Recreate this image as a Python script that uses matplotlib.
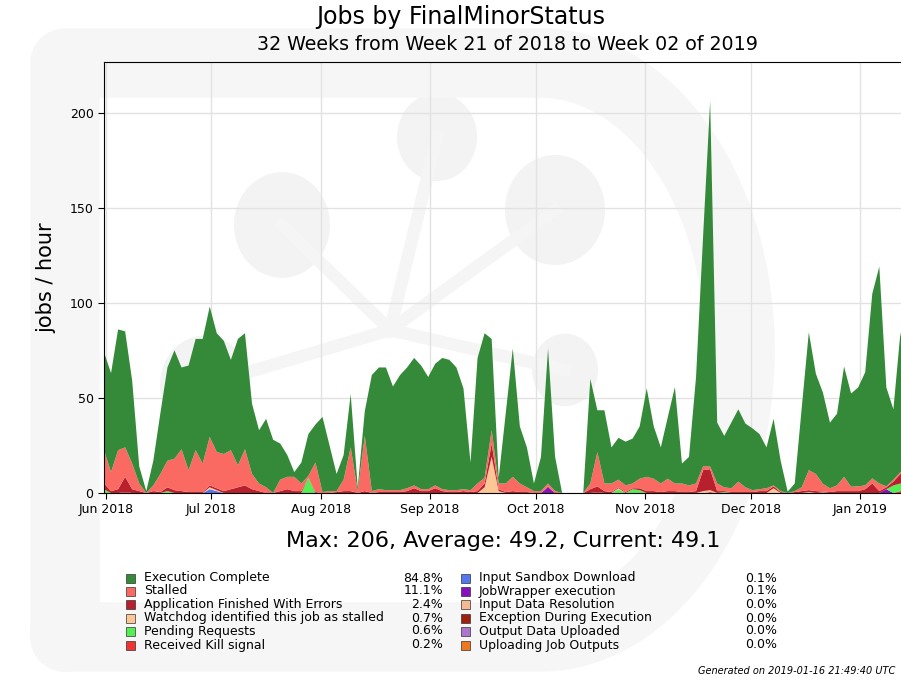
import matplotlib
matplotlib.use('Agg')
import matplotlib.pyplot as plt
import matplotlib.dates as mdates
from matplotlib.patches import Rectangle, Ellipse
import numpy as np
import pandas as pd

# 2-day bins, Week 21 2018 .. Week 02 2019
dates = pd.date_range('2018-05-31 12:00', periods=115, freq='2D')

execution_complete = [
    51.5, 52, 63.5, 61, 43.5, 9, 1, 13, 32, 49,
    57, 43, 55, 58.5, 65.5, 68.5, 62.5, 59.5, 47.5, 66.5,
    61, 37, 28, 36, 28, 19, 11.5, 2.5, 11, 22,
    20, 39.5, 24, 9, 13, 28, 2, 13, 61, 64,
    64.5, 54.5, 60.5, 63.5, 67, 65, 59, 64, 69, 68.5,
    64.5, 53, 14.5, 66, 76, 48, 3, 37, 67.5, 30,
    21, 4, 18, 71, 18, 0, 0, 0, 0, 55,
    22, 38.5, 19, 22, 23, 23.6, 27.5, 46.5, 27.5, 19,
    32.5, 50.7, 10.5, 15, 56, 121, 192, 32, 27, 34.5,
    38, 33.5, 32.5, 29, 21.5, 35, 16, 0.7, 4, 42,
    72.5, 52.7, 48, 34.5, 37.7, 58, 49, 52, 59.5, 97,
    114, 52, 37, 73.5, 40,
]
stalled = [
    17.5, 10, 20.5, 15.5, 13.5, 4, 0, 3, 9.5, 14,
    16.5, 22, 11.5, 22, 15, 25.5, 19, 19.5, 20.5, 11.5,
    19, 8, 4, 3, 0, 6, 6.5, 7.5, 4, 1,
    15.5, 0.5, 1, 0.5, 6, 23, 1, 29, 1, 1.5,
    1, 1, 1, 1.5, 1.5, 1, 1, 1.5, 1, 1,
    1, 1, 1, 4, 3, 7, 3, 4.5, 7.5, 4.5,
    2.5, 1, 1, 1.5, 1, 0, 0, 0, 0, 3,
    18, 4, 4.5, 4, 3.5, 2.5, 5, 7.5, 6.5, 4.5,
    6.5, 4, 4.5, 3.5, 4, 2, 1.5, 4, 2, 2,
    5.5, 2.5, 1, 1, 1.5, 0.5, 0.5, 0, 0.5, 2,
    10.5, 9, 4, 2, 3, 7.5, 2.3, 2.5, 2, 2.7,
    4, 0.5, 1, 1, 1,
]
app_errors = [
    3, 1, 2, 8, 2, 1, 0, 1, 0.5, 2,
    1.5, 1, 0.5, 0.5, 0.5, 1, 1, 1, 2, 3,
    4, 2, 1, 0, 0, 1, 2, 1, 1, 0,
    0.5, 0, 0, 0.5, 1, 1, 0, 1, 0, 0.5,
    0.5, 0.5, 0.5, 1, 2.5, 1, 1, 2.5, 1, 0.5,
    0.5, 1, 0.5, 1, 2, 7, 1, 0.5, 1, 0.5,
    0.5, 0, 0, 0.5, 0, 0, 0, 0, 0, 2,
    3, 1, 0.5, 0.5, 0.5, 0.5, 1, 1, 1, 0.5,
    1, 1, 0.5, 0.5, 1, 11, 11, 1, 0.5, 0.5,
    0.5, 0.5, 0.5, 1, 1, 1, 0.5, 0, 0.5, 1,
    1, 1, 0.5, 0.5, 1, 1, 1, 1, 2, 5,
    1, 1, 2, 5, 4,
]
# sparse series: bin index -> jobs/hour
watchdog_pts = {15: 1, 16: 0.5, 54: 3, 55: 19, 56: 1, 73: 0.5, 85: 1, 86: 1,
                95: 2.5, 100: 0.5, 102: 0.3}
pending_pts = {0: 2, 9: 1, 29: 8, 73: 2, 75: 2, 76: 1.5, 88: 0.5, 112: 4, 113: 4, 114: 5}
kill_pts = {3: 0.5, 70: 0.5, 86: 0.5, 113: 1}
sandbox_pts = {15: 2, 16: 1}
jobwrapper_pts = {63: 3, 111: 2}


def sparse(pts):
    arr = np.zeros(len(dates))
    for k, v in pts.items():
        arr[k] = v
    return arr


names = ['Execution Complete', 'Stalled', 'Application Finished With Errors',
         'Watchdog identified this job as stalled', 'Pending Requests',
         'Received Kill signal', 'Input Sandbox Download', 'JobWrapper execution',
         'Input Data Resolution', 'Exception During Execution',
         'Output Data Uploaded', 'Uploading Job Outputs']
percents = ['84.8%', '11.1%', '2.4%', '0.7%', '0.6%', '0.2%',
            '0.1%', '0.1%', '0.0%', '0.0%', '0.0%', '0.0%']
colors = ['#348a38', '#fb6a62', '#b8202e', '#fcc695', '#55ee55', '#ee3333',
          '#5577ee', '#8811bb', '#f5b994', '#a02010', '#aa77cc', '#ee7722']

series = [np.array(execution_complete), np.array(stalled), np.array(app_errors),
          sparse(watchdog_pts), sparse(pending_pts), sparse(kill_pts),
          sparse(sandbox_pts), sparse(jobwrapper_pts),
          np.zeros(len(dates)), np.zeros(len(dates)),
          np.zeros(len(dates)), np.zeros(len(dates))]

W, H = 901, 677
fig = plt.figure(figsize=(9.01, 6.77), dpi=100)
fig.patch.set_facecolor('white')

# faint logo watermark
wm = fig.add_axes([0, 0, 1, 1], zorder=0)
wm.set_xlim(0, W)
wm.set_ylim(H, 0)
wm.axis('off')
t = np.linspace(-np.pi / 2, np.pi / 2, 80)
dx = np.concatenate([[65, 65, 540], 540 + 200 * np.cos(t), [540, 65]])
dy = np.concatenate([[637, 63, 63], 350 + 287 * np.sin(t), [637, 637]])
wm.plot(dx, dy, color='#f6f6f6', lw=50, solid_joinstyle='round', solid_capstyle='round')
cx, cy = 390, 330
for (ex, ey, r) in [(282, 225, 48), (437, 137, 40), (555, 210, 50), (565, 370, 33), (205, 385, 45)]:
    wm.plot([cx, ex], [cy, ey], color='#f5f5f5', lw=9)
    wm.add_patch(Ellipse((ex, ey), 2 * r, 2.2 * r, color='#f3f3f3', lw=0))

ax = fig.add_axes([104 / W, 1 - 493 / H, (907.5 - 104) / W, (493 - 62) / H], zorder=1)
ax.set_facecolor('none')
ax.stackplot(dates, *series[::-1], colors=colors[::-1], linewidth=0)
ax.set_xlim(dates[0], dates[-1])
ax.set_ylim(0, 226.6)
ax.set_yticks([0, 50, 100, 150, 200])
ax.xaxis.set_major_locator(mdates.MonthLocator())
ax.xaxis.set_major_formatter(mdates.DateFormatter('%b %Y'))
ax.grid(True, color='#e2e2e2', lw=1)
ax.set_axisbelow(True)
ax.tick_params(labelsize=9, length=4)
ax.set_ylabel('jobs / hour', fontsize=15, labelpad=10)

fig.text(461 / W, 1 - 17 / H, 'Jobs by FinalMinorStatus', ha='center', va='center', fontsize=17)
fig.text(508 / W, 1 - 45 / H, '32 Weeks from Week 21 of 2018 to Week 02 of 2019',
         ha='center', va='center', fontsize=13.7)
fig.text(503 / W, 1 - 541 / H, 'Max: 206, Average: 49.2, Current: 49.1',
         ha='center', va='center', fontsize=16)

rows = [578, 591, 604.5, 618, 631, 645]
for k, (name, pct, col) in enumerate(zip(names, percents, colors)):
    column = k // 6
    y = rows[k % 6]
    sx = 126 if column == 0 else 461
    px = 443 if column == 0 else 777
    fig.patches.append(Rectangle((sx / W, 1 - (y + 4.5) / H), 9 / W, 9 / H,
                                 facecolor=col, edgecolor='#333333', lw=0.5,
                                 transform=fig.transFigure, figure=fig))
    fig.text((sx + 18) / W, 1 - y / H, name, ha='left', va='center', fontsize=9)
    fig.text(px / W, 1 - y / H, pct, ha='right', va='center', fontsize=9)

fig.text(698 / W, 1 - 671 / H, 'Generated on 2019-01-16 21:49:40 UTC',
         ha='left', va='center', fontsize=7, style='italic')

fig.savefig('out.png', dpi=100)
